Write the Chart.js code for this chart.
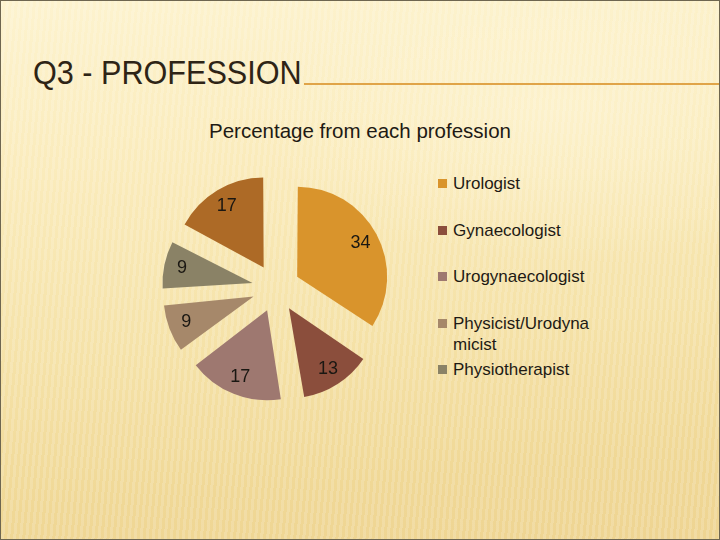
<!DOCTYPE html>
<html>
<head>
<meta charset="utf-8">
<script src="https://cdn.jsdelivr.net/npm/chart.js@4.4.1/dist/chart.umd.min.js"></script>
<style>
  html, body { margin: 0; padding: 0; }
  body {
    width: 720px; height: 540px; overflow: hidden; position: relative;
    box-sizing: border-box; border: 1px solid #6e6650;
    background:
      repeating-linear-gradient(95deg, rgba(255,255,255,0.16) 0 3px, rgba(255,255,255,0) 3px 6px),
      radial-gradient(ellipse 420px 200px at 560px 110px, rgba(255,248,220,0.45), rgba(255,248,220,0) 75%),
      linear-gradient(175deg, #fdf3cf 0%, #faebbb 30%, #f5e2a8 60%, #f0d896 85%, #eed492 100%);
  }
  #slideTitle {
    position: absolute; left: 32px; top: 54px; margin: 0; line-height: 34px;
    font-family: "Liberation Sans", "Arimo", sans-serif;
    font-size: 34px; font-weight: normal; color: #2e2416;
    transform: scaleX(0.9); transform-origin: left top; white-space: nowrap;
  }
  #titleRule {
    position: absolute; left: 303px; right: 0; top: 82px; height: 0;
    border-top: 2px solid #e0a448;
  }
  #chartTitle {
    position: absolute; left: 0; width: 718px; top: 118px; text-align: center;
    font-family: "Liberation Sans", sans-serif; line-height: 24px;
    font-size: 20.5px; color: #1e1a14;
  }
  #legend {
    position: absolute; left: 437px; top: 172px;
    font-family: "Liberation Sans", sans-serif; font-size: 17px; color: #1e1a14;
  }
  .item { position: relative; height: 46.5px; padding-left: 15px; line-height: 21px; white-space: nowrap; }
  .item span.box { position: absolute; left: 0; top: 6px; width: 9px; height: 9px; }
  canvas { position: absolute; left: 0; top: 0; }
</style>
</head>
<body>
<h1 id="slideTitle">Q3 - PROFESSION</h1>
<div id="titleRule"></div>
<div id="chartTitle">Percentage from each profession</div>
<div id="legend"></div>
<canvas id="pie" width="720" height="540"></canvas>
<script>
const professions = ['Urologist', 'Gynaecologist', 'Urogynaecologist', 'Physicist/Urodynamicist', 'Physiotherapist', 'Other'];
const legendText = ['Urologist', 'Gynaecologist', 'Urogynaecologist', 'Physicist/Urodyna<br>micist', 'Physiotherapist'];
const percentages = [34, 13, 17, 9, 9, 17];
const sliceColors = ['#d9942c', '#8b4e3c', '#9e7870', '#a6886a', '#8a8266', '#ad6a26'];

const PIE_RADIUS = 90;

// legend built from the same arrays (only the first five fit in the slide)
document.getElementById('legend').innerHTML = legendText.map((t, i) => `
  <div class="item"><span class="box" style="background:${sliceColors[i]}"></span>${t}</div>
`).join('');

// chart.js v4 moves an exploded arc by offset/4, but also makes small arcs bigger
// (radius + shift * (1 - sin(angle))). undo that so every slice keeps the same radius
const evenRadius = {
    id: 'evenRadius',
    beforeDatasetsDraw(chart) {
        chart.getDatasetMeta(0).data.forEach(arc => {
            const shift = arc.options.offset / 4;
            const fix = 1 - Math.sin(Math.min(Math.PI, arc.circumference));
            arc.outerRadius = PIE_RADIUS - shift * fix;
        });
    }
};

// labels in each slice
const sliceLabels = {
    id: 'sliceLabels',
    afterDatasetsDraw(chart) {
        const ctx = chart.ctx;
        const meta = chart.getDatasetMeta(0);
        ctx.save();
        ctx.font = '18px "Liberation Sans", sans-serif';
        ctx.fillStyle = '#1a1712';
        ctx.textAlign = 'center';
        ctx.textBaseline = 'middle';
        meta.data.forEach((arc, i) => {
            const mid = (arc.startAngle + arc.endAngle) / 2;
            const r = arc.options.offset / 4 + PIE_RADIUS * 0.8;
            ctx.fillText(String(percentages[i]), arc.x + Math.cos(mid) * r, arc.y + Math.sin(mid) * r);
        });
        ctx.restore();
    }
};

new Chart(document.getElementById('pie').getContext('2d'), {
    type: 'pie',
    data: {
        labels: professions,
        datasets: [{
            data: percentages,
            backgroundColor: sliceColors,
            borderWidth: 0,
            offset: 96
        }]
    },
    options: {
        responsive: false,
        animation: false,
        radius: PIE_RADIUS,
        layout: {padding: {left: 135, right: 305, top: 147, bottom: 113}},
        plugins: {
            legend: {display: false},
            tooltip: {enabled: false}
        }
    },
    plugins: [evenRadius, sliceLabels]
});
</script>
</body>
</html>
